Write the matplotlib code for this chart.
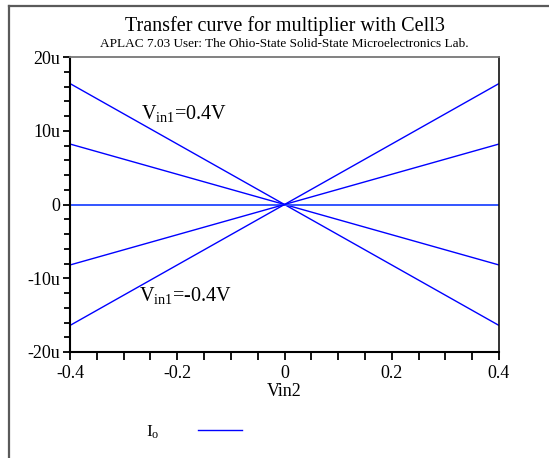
import matplotlib
matplotlib.use("Agg")
import matplotlib.pyplot as plt
from matplotlib.lines import Line2D
from matplotlib.ticker import MultipleLocator, FuncFormatter

plt.rcParams['font.family'] = ['Liberation Serif', 'DejaVu Serif']
plt.rcParams['mathtext.fontset'] = 'custom'
plt.rcParams['mathtext.rm'] = 'Liberation Serif'
plt.rcParams['mathtext.it'] = 'Liberation Serif:italic'

# Data (currents in micro-amps)
vin2 = [-0.4, 0.4]
io_curves = [
    [16.4, -16.4],   # Vin1 = 0.4 V
    [8.2, -8.2],     # Vin1 = 0.2 V
    [0.0, 0.0],      # Vin1 = 0 V
    [-8.2, 8.2],     # Vin1 = -0.2 V
    [-16.4, 16.4],   # Vin1 = -0.4 V
]
x_ticks = [-0.4, -0.2, 0, 0.2, 0.4]
y_ticks = [-20, -10, 0, 10, 20]

W, H = 549, 458
fig = plt.figure(figsize=(W / 100, H / 100), dpi=100)
fig.patch.set_facecolor('white')

# outer frame (left and top edges)
fig.add_artist(Line2D([8.5 / W, 8.5 / W], [0, 1 - 5.5 / H], color='#5a5a5a', lw=1.6))
fig.add_artist(Line2D([8.5 / W, 1.0], [1 - 5.5 / H, 1 - 5.5 / H], color='#5a5a5a', lw=1.6))

L, R, T, B = 70, 499, 57, 352
ax = fig.add_axes([L / W, 1 - B / H, (R - L) / W, (B - T) / H])

for i, ys in enumerate(io_curves):
    zero = all(v == 0 for v in ys)
    ax.plot(vin2, ys, color='#3355ff' if zero else '#0000ff', lw=1.4 if zero else 1.0,
            label=r'I$_{\rm o}$' if i == 0 else None)

ax.set_xlim(-0.4, 0.4)
ax.set_ylim(-20, 20)
ax.set_xticks(x_ticks)
ax.set_yticks(y_ticks)
ax.xaxis.set_minor_locator(MultipleLocator(0.05))
ax.yaxis.set_minor_locator(MultipleLocator(2))

def yfmt(v, pos):
    v = int(round(v))
    return '0' if v == 0 else f'{v}u'

def xfmt(v, pos):
    if abs(v) < 1e-9:
        return '0'
    return f'{v:.1f}'

ax.yaxis.set_major_formatter(FuncFormatter(yfmt))
ax.xaxis.set_major_formatter(FuncFormatter(xfmt))
ax.tick_params(which='major', direction='out', length=5, width=1.3, labelsize=13, pad=2, colors='black')
ax.tick_params(which='minor', direction='out', length=4, width=1.3)
ax.tick_params(axis='x', which='both', length=6, pad=3)

for s in ['left', 'bottom']:
    ax.spines[s].set_linewidth(1.5)
    ax.spines[s].set_color('black')
ax.spines['top'].set_color('#777777')
ax.spines['top'].set_linewidth(1.3)
ax.spines['right'].set_color('#111111')
ax.spines['right'].set_linewidth(1.2)

ax.set_xlabel('Vin2', fontsize=13, labelpad=1)

fig.text((L + R) / 2 / W, 1 - 26 / H, 'Transfer curve for multiplier with Cell3',
         ha='center', va='center', fontsize=14.5)
fig.text((L + R) / 2 / W, 1 - 44 / H,
         'APLAC 7.03 User: The Ohio-State Solid-State Microelectronics Lab.',
         ha='center', va='center', fontsize=9.5)

ax.text(-0.268, 11.6, r'V$_{\rm in1}$=0.4V', fontsize=14.5, ha='left', va='baseline')
ax.text(-0.272, -13.1, r'V$_{\rm in1}$=-0.4V', fontsize=14.5, ha='left', va='baseline')

leg = ax.legend(loc='center left', bbox_to_anchor=(146 / W, 1 - 432 / H),
                bbox_transform=fig.transFigure, frameon=False, markerfirst=False,
                fontsize=12.5, handlelength=2.55, handletextpad=2.2,
                borderpad=0, borderaxespad=0)

fig.savefig('out.png', dpi=100, facecolor='white')
